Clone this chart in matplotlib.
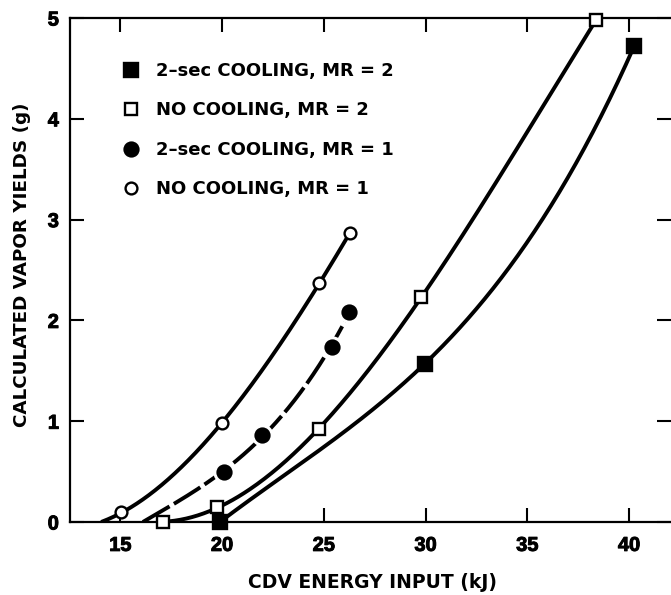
import numpy as np
import matplotlib
matplotlib.use("Agg")
import matplotlib.pyplot as plt
import matplotlib.patheffects as pe

plt.rcParams['font.family'] = ['DejaVu Sans']
plt.rcParams['font.weight'] = 'bold'

# CDV energy input (kJ) and calculated vapor yield (g) for each case
e_cool_mr2 = [19.9, 29.98, 40.25]
y_cool_mr2 = [0.0, 1.57, 4.72]
e_nocool_mr2 = [17.1, 19.75, 24.77, 29.78, 38.38]
y_nocool_mr2 = [0.0, 0.15, 0.92, 2.23, 4.98]
e_cool_mr1 = [20.1, 21.97, 25.4, 26.24]
y_cool_mr1 = [0.50, 0.86, 1.74, 2.08]
e_nocool_mr1 = [15.04, 20.0, 24.77, 26.3]
y_nocool_mr1 = [0.10, 0.98, 2.37, 2.87]

# Energy at which each fitted yield curve leaves zero
onset_cool_mr2 = 19.9
onset_nocool_mr2 = 17.1
onset_cool_mr1 = 16.1
onset_nocool_mr1 = 14.15

# Additional readings along the fitted curve of the cooled MR = 2 case
guide_e_cool_mr2 = [24.2, 35.3]
guide_y_cool_mr2 = [0.63, 2.87]

labels = ["2\u2013sec COOLING, MR = 2", "NO COOLING, MR = 2",
          "2\u2013sec COOLING, MR = 1", "NO COOLING, MR = 1"]
x_ticks = [15, 20, 25, 30, 35, 40]
y_ticks = [0, 1, 2, 3, 4, 5]
x_label = "CDV ENERGY INPUT (kJ)"
y_label = "CALCULATED VAPOR YIELDS (g)"


def trend(e, y, onset, extra_e=(), extra_y=(), deg=3):
    xs = np.r_[onset, e, extra_e]
    ys = np.r_[0.0, y, extra_y]
    coef = np.polyfit(xs, ys, deg)
    grid = np.linspace(onset, max(e), 300)
    return grid, np.clip(np.polyval(coef, grid), 0, None)


fig = plt.figure(figsize=(6.71, 5.95), dpi=100)
W, H = 671, 595
ax = fig.add_axes([70 / W, 1 - 522 / H, 601 / W, 504 / H])
ax.set_xlim(12.53, 42.06)
ax.set_ylim(0, 5)

LW = 2.8
MEW = 1.7
heavy = [pe.withStroke(linewidth=0.7, foreground='black')]

# fitted curves
gx, gy = trend(e_nocool_mr1, y_nocool_mr1, onset_nocool_mr1)
ax.plot(gx, gy, color='black', lw=LW, zorder=2)
gx, gy = trend(e_cool_mr1, y_cool_mr1, onset_cool_mr1)
ax.plot(gx, gy, color='black', lw=LW, zorder=2, dashes=(8, 1.3))
gx, gy = trend(e_nocool_mr2, y_nocool_mr2, onset_nocool_mr2)
ax.plot(gx, gy, color='black', lw=LW, zorder=2)
gx, gy = trend(e_cool_mr2, y_cool_mr2, onset_cool_mr2,
               guide_e_cool_mr2, guide_y_cool_mr2)
ax.plot(gx, gy, color='black', lw=LW, zorder=2)

# white halo that breaks the dashed curve around its markers
ax.plot(e_cool_mr1, y_cool_mr1, 'o', ms=16, color='white', mew=0, zorder=3)

h1, = ax.plot(e_cool_mr2, y_cool_mr2, 's', ms=9.5, mfc='black', mec='black',
              mew=MEW, zorder=4, clip_on=False)
h2, = ax.plot(e_nocool_mr2, y_nocool_mr2, 's', ms=9, mfc='white', mec='black',
              mew=MEW, zorder=4, clip_on=False)
h3, = ax.plot(e_cool_mr1, y_cool_mr1, 'o', ms=10, mfc='black', mec='black',
              mew=MEW, zorder=4, clip_on=False)
h4, = ax.plot(e_nocool_mr1, y_nocool_mr1, 'o', ms=8.5, mfc='white', mec='black',
              mew=MEW, zorder=4, clip_on=False)

# axes frame and ticks
for side in ('left', 'bottom', 'top'):
    ax.spines[side].set_linewidth(1.6)
ax.spines['right'].set_visible(False)
ax.set_xticks(x_ticks)
ax.set_yticks(y_ticks)
ax.tick_params(axis='both', which='major', direction='in', length=10, width=1.5,
               labelsize=14.4, top=True, right=True)
ax.tick_params(axis='x', pad=10)
ax.tick_params(axis='y', pad=8)
for t in ax.get_xticklabels() + ax.get_yticklabels():
    t.set_fontfamily('Liberation Sans')
    t.set_fontweight('bold')
    t.set_path_effects(heavy)

fig.text(372 / W, 1 - 582 / H, x_label, ha='center', va='center',
         fontsize=13.5, fontweight='bold')
fig.text(22 / W, 1 - 265 / H, y_label, ha='center', va='center',
         rotation=90, fontsize=13.2, fontweight='bold')

ax.legend([h1, h2, h3, h4], labels, loc='upper left',
          bbox_to_anchor=(124 / W, 1 - 62 / H), bbox_transform=fig.transFigure,
          frameon=False, borderpad=0, borderaxespad=0, handlelength=0.8,
          handletextpad=0.95, labelspacing=1.19,
          prop=dict(size=13, weight='bold'))

fig.savefig('out.png', dpi=100)
